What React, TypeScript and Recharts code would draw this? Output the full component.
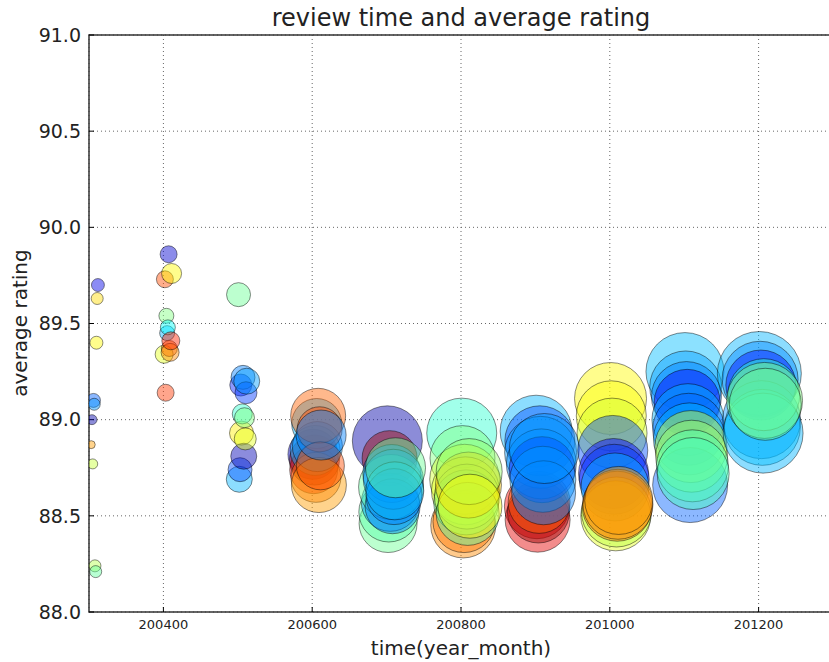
import React from 'react';
import { ScatterChart, Scatter, XAxis, YAxis, ZAxis, CartesianGrid, Cell, ReferenceArea } from 'recharts';

// time (year*100 + month)
const months = [
  200303, 200304, 200305, 200306, 200307, 200308, 200309, 200310, 200311, 200312,
  200401, 200402, 200403, 200404, 200405, 200406, 200407, 200408, 200409, 200410, 200411,
  200501, 200502, 200503, 200504, 200505, 200506, 200507, 200508, 200509, 200510, 200511, 200512,
  200601, 200602, 200603, 200604, 200605, 200606, 200607, 200608, 200609, 200610, 200611, 200612,
  200701, 200702, 200703, 200704, 200705, 200706, 200707, 200708, 200709, 200710, 200711, 200712,
  200801, 200802, 200803, 200804, 200805, 200806, 200807, 200808, 200809, 200810, 200811, 200812,
  200901, 200902, 200903, 200904, 200905, 200906, 200907, 200908, 200909, 200910, 200911, 200912,
  201001, 201002, 201003, 201004, 201005, 201006, 201007, 201008, 201009, 201010, 201011, 201012,
  201101, 201102, 201103, 201104, 201105, 201106, 201107, 201108, 201109, 201110, 201111, 201112,
  201201, 201202, 201203, 201204, 201205, 201206, 201207, 201208, 201209,
];

const ratings = [
  88.87, 89.0, 88.77, 89.1, 89.08, 88.24, 88.21, 89.4, 89.63, 89.7,
  89.34, 89.73, 89.14, 89.54, 89.45, 89.48, 89.86, 89.37, 89.35, 89.41, 89.76,
  89.65, 88.69, 88.74, 89.18, 88.93, 89.03, 89.22, 88.81, 89.01, 88.9, 89.14, 89.2,
  88.82, 88.74, 88.79, 88.84, 88.7, 88.98, 88.86, 89.02, 88.66, 88.95, 88.76, 88.92,
  88.89, 88.46, 88.52, 88.8, 88.57, 88.65, 88.72, 88.55, 88.69, 88.6, 88.63, 88.75,
  88.93, 88.8, 88.45, 88.47, 88.69, 88.63, 88.57, 88.6, 88.51, 88.66, 88.73, 88.55,
  88.94, 88.55, 88.48, 88.52, 88.57, 88.89, 88.83, 88.77, 88.74, 88.69, 88.62, 88.85,
  89.11, 89.02, 88.93, 88.84, 88.72, 88.69, 88.65, 88.5, 88.52, 88.55, 88.56, 88.58,
  89.25, 89.17, 89.12, 89.09, 89.0, 88.95, 88.9, 88.66, 88.86, 88.81, 88.76, 88.72,
  89.24, 89.21, 89.18, 89.0, 88.96, 88.93, 89.13, 89.1, 89.08,
];

// number of reviews per month
const reviewCounts = [
  16, 25, 25, 49, 36, 36, 36, 42, 36, 42,
  81, 72, 72, 56, 56, 56, 72, 64, 81, 81, 100,
  144, 169, 144, 121, 144, 100, 144, 169, 100, 121, 121, 169,
  625, 576, 625, 625, 625, 625, 625, 756, 756, 506, 576, 625,
  1225, 841, 900, 756, 841, 1056, 841, 756, 900, 784, 841, 900,
  1225, 1056, 1056, 961, 1225, 1156, 1056, 1056, 992, 1089, 1089, 1024,
  1296, 1056, 1056, 961, 961, 1225, 1296, 1225, 1089, 1089, 1024, 1225,
  1296, 1225, 1225, 1225, 1225, 1225, 1156, 1225, 1225, 1225, 1225, 1156,
  1521, 1296, 1225, 1089, 1296, 1296, 1296, 1406, 1296, 1296, 1296, 1296,
  1764, 1444, 1225, 1521, 1444, 1600, 1296, 1444, 1296,
];

// colour value (0..1) on the jet colormap
const colorValues = [
  0.72, 0.04, 0.57, 0.22, 0.27, 0.55, 0.47, 0.63, 0.66, 0.1,
  0.6, 0.8, 0.82, 0.5, 0.3, 0.38, 0.08, 0.78, 0.74, 0.84, 0.63,
  0.48, 0.3, 0.2, 0.15, 0.64, 0.42, 0.25, 0.05, 0.5, 0.6, 0.18, 0.28,
  0.08, 0.88, 0.97, 0.3, 0.76, 0.3, 0.27, 0.78, 0.72, 0.8, 0.8, 0.25,
  0.04, 0.48, 0.46, 0.97, 0.28, 0.47, 0.27, 0.25, 0.27, 0.25, 0.3, 0.48,
  0.42, 0.5, 0.74, 0.76, 0.58, 0.6, 0.48, 0.56, 0.46, 0.68, 0.52, 0.62,
  0.3, 0.87, 0.9, 0.97, 0.78, 0.2, 0.27, 0.26, 0.15, 0.28, 0.25, 0.27,
  0.63, 0.62, 0.58, 0.2, 0.12, 0.18, 0.3, 0.6, 0.56, 0.76, 0.74, 0.72,
  0.31, 0.28, 0.25, 0.12, 0.3, 0.22, 0.3, 0.22, 0.58, 0.53, 0.45, 0.44,
  0.3, 0.26, 0.14, 0.27, 0.32, 0.3, 0.42, 0.5, 0.48,
];

const xTicks = [200400, 200600, 200800, 201000, 201200];
const yTicks = [88.0, 88.5, 89.0, 89.5, 90.0, 90.5, 91.0];

const points = months.map((m, i) => ({ x: m, y: ratings[i], count: reviewCounts[i], c: colorValues[i] }));

const clamp = (v: number) => Math.max(0, Math.min(1, v));
function jet(v: number): string {
  const r = clamp(1.5 - Math.abs(4 * v - 3));
  const g = clamp(1.5 - Math.abs(4 * v - 2));
  const b = clamp(1.5 - Math.abs(4 * v - 1));
  return `rgb(${Math.round(r * 255)},${Math.round(g * 255)},${Math.round(b * 255)})`;
}

const FONT = '"DejaVu Sans", sans-serif';
const TEXT = '#222';

export default function App() {
  return (
    <div style={{ position: 'absolute', left: 0, top: 0, width: 829, height: 662, overflow: 'hidden', background: '#fff', fontFamily: FONT }}>
      <ScatterChart width={840} height={662} margin={{ top: 35, right: 7, bottom: 0, left: 29 }}>
        <CartesianGrid stroke="#666" strokeDasharray="1 3" strokeWidth={1} />
        <XAxis
          type="number"
          dataKey="x"
          domain={[200300, 201300]}
          ticks={xTicks}
          allowDataOverflow
          height={50}
          axisLine={false}
          tickSize={-5}
          tickMargin={13}
          tickLine={{ stroke: '#000' }}
          tick={{ fontSize: 13, fill: TEXT, fontFamily: FONT }}
        />
        <YAxis
          type="number"
          dataKey="y"
          domain={[88, 91]}
          ticks={yTicks}
          allowDataOverflow
          width={60}
          axisLine={false}
          tickSize={-5}
          tickMargin={13}
          tickLine={{ stroke: '#000' }}
          tickFormatter={(v: number) => v.toFixed(1)}
          tick={{ fontSize: 19, fill: TEXT, fontFamily: FONT }}
        />
        <ZAxis type="number" dataKey="count" domain={[0, 2000]} range={[0, 2000 * Math.PI]} />
        <Scatter data={points} isAnimationActive={false} shape="circle">
          {points.map((p, i) => (
            <Cell key={i} fill={jet(p.c)} fillOpacity={0.45} stroke="#000" strokeOpacity={0.45} strokeWidth={1} />
          ))}
        </Scatter>
        <ReferenceArea x1={200300} x2={201300} y1={88} y2={91} fill="none" fillOpacity={0} stroke="#333" strokeWidth={1.5} />
      </ScatterChart>
      <div style={{ position: 'absolute', left: 89, width: 744, top: 4, textAlign: 'center', fontSize: 24, lineHeight: '28px', color: TEXT }}>
        review time and average rating
      </div>
      <div style={{ position: 'absolute', left: 89, width: 744, top: 636, textAlign: 'center', fontSize: 20, lineHeight: '24px', color: TEXT }}>
        time(year_month)
      </div>
      <div style={{ position: 'absolute', left: -80, top: 311, width: 200, height: 24, textAlign: 'center', fontSize: 20, lineHeight: '24px', color: TEXT, transform: 'rotate(-90deg)' }}>
        average rating
      </div>
    </div>
  );
}
